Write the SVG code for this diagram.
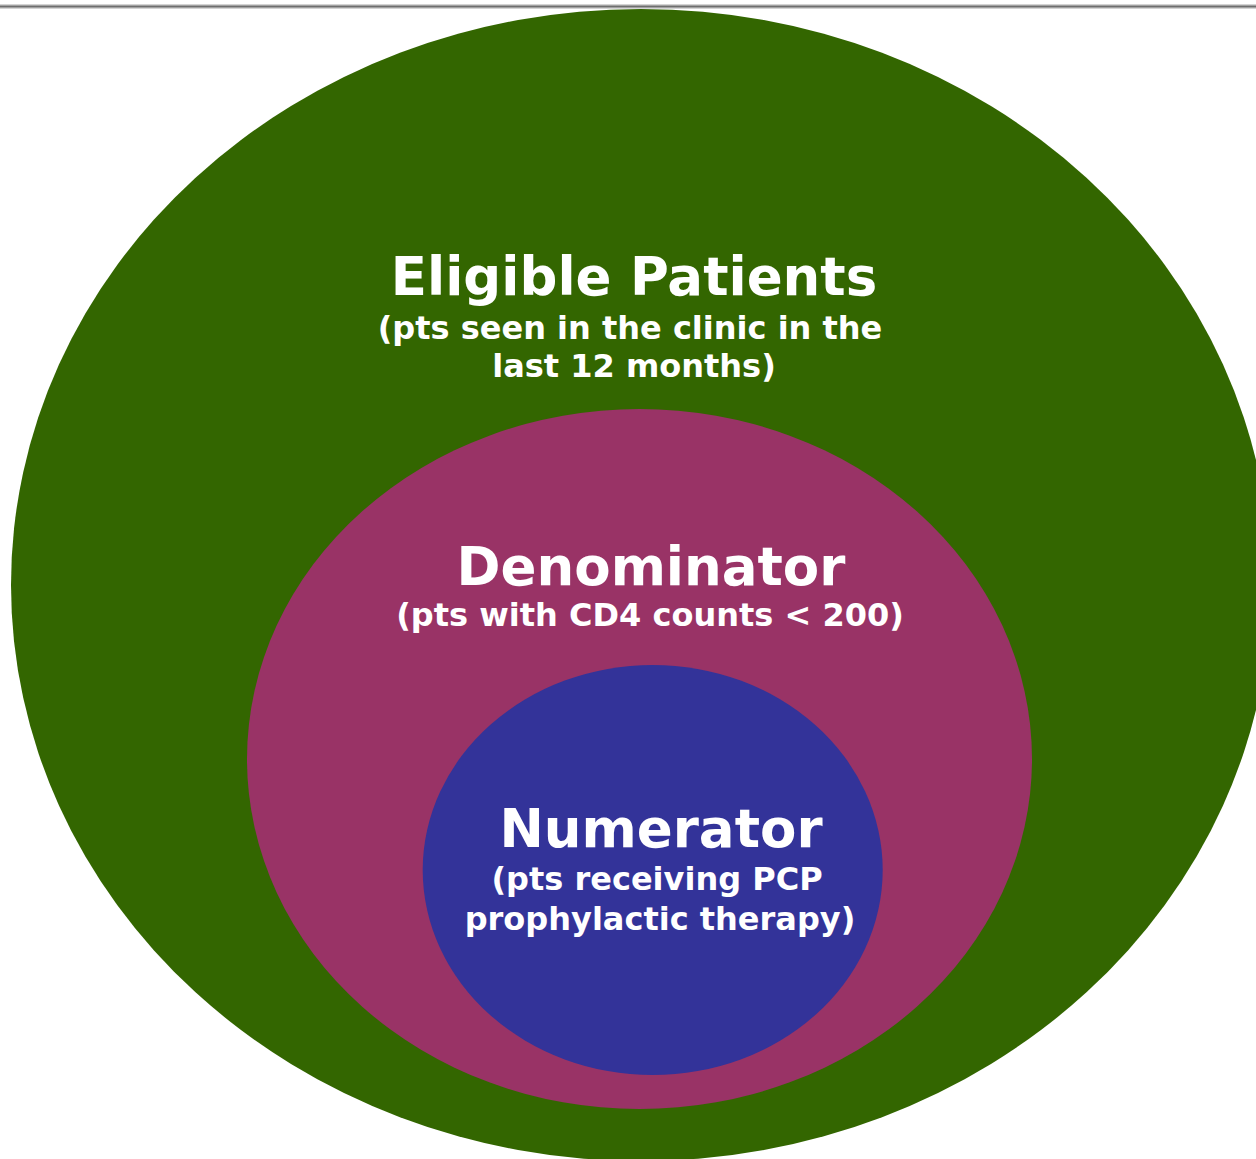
<svg xmlns="http://www.w3.org/2000/svg" width="1256" height="1159" viewBox="0 0 1256 1159">
  <style>
    .title { font-family: "DejaVu Sans", Verdana, sans-serif; font-weight: bold; font-size: 53px; fill: #ffffff; text-anchor: middle; }
    .sub { font-family: "DejaVu Sans", Verdana, sans-serif; font-weight: bold; font-size: 32px; fill: #ffffff; text-anchor: middle; }
  </style>
  <rect width="1256" height="1159" fill="#ffffff"/>
  <!-- rule across the top -->
  <line x1="0" y1="6.5" x2="1256" y2="6.5" stroke="#d4d4d4" stroke-width="5"/>
  <line x1="0" y1="6.5" x2="1256" y2="6.5" stroke="#6e6e6e" stroke-width="2"/>

  <g id="eligible">
    <ellipse cx="641" cy="585" rx="630" ry="576" fill="#336600"/>
    <text class="title" x="634" y="295">Eligible Patients</text>
    <text class="sub" x="630" y="339">(pts seen in the clinic in the</text>
    <text class="sub" x="634" y="377">last 12 months)</text>
  </g>

  <g id="denominator">
    <ellipse cx="639.5" cy="759" rx="392.5" ry="350" fill="#993366"/>
    <text class="title" x="651" y="585">Denominator</text>
    <text class="sub" x="650" y="626">(pts with CD4 counts &lt; 200)</text>
  </g>

  <g id="numerator">
    <ellipse cx="652.7" cy="870" rx="230" ry="205" fill="#333399"/>
    <text class="title" x="661" y="847">Numerator</text>
    <text class="sub" x="657" y="890">(pts receiving PCP</text>
    <text class="sub" x="660" y="930">prophylactic therapy)</text>
  </g>

  <g id="connectors"/>
</svg>
